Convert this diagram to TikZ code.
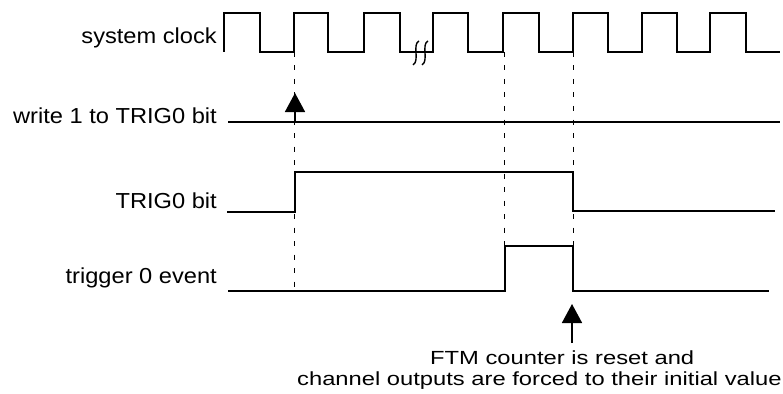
\documentclass[tikz,border=0pt]{standalone}
\usepackage{fontspec}
\setmainfont{Liberation Sans}
\usetikzlibrary{arrows.meta}
\begin{document}
\begin{tikzpicture}[x=1pt,y=-1pt,
  sig/.style={line width=1.6pt, line join=miter},
  guide/.style={line width=0.9pt, dash pattern=on 5pt off 8.5pt},
  lbl/.style={anchor=base east, inner sep=0pt, font=\fontsize{21.7}{24}\selectfont},
  note/.style={anchor=base west, inner sep=0pt, font=\fontsize{19}{21}\selectfont},
  marker/.style={line width=1.6pt, -{Triangle[width=20pt,length=19pt]}},
  brk/.style={line width=1.4pt}]
\useasboundingbox (0,0) rectangle (783,393);

% labels
\node[lbl] (lclk) at (217,44) {\scalebox{1.09}[1]{system clock}};
\node[lbl] (lwr) at (217,123) {\scalebox{1.09}[1]{write 1 to TRIG0 bit}};
\node[lbl] (ltrig) at (217,208) {\scalebox{1.09}[1]{TRIG0 bit}};
\node[lbl] (lev) at (217,283) {\scalebox{1.09}[1]{trigger 0 event}};

% guide lines
\coordinate (g1t) at (294,52);
\coordinate (g1b) at (294,291);
\coordinate (g2t) at (504,52);
\coordinate (g2b) at (504,246);
\coordinate (g3t) at (573,52);
\coordinate (g3b) at (573,246);
\draw[guide] (g1t) -- (g1b);
\draw[guide] (g2t) -- (g2b);
\draw[guide] (g3t) -- (g3b);

% system clock
\draw[sig] (224,52) -- (224,13) -- (260,13) -- (260,52) -- (294,52) -- (294,13)
  -- (328,13) -- (328,52) -- (364,52) -- (364,13) -- (400,13) -- (400,52)
  -- (433,52) -- (433,13) -- (468,13) -- (468,52) -- (503,52) -- (503,13)
  -- (539,13) -- (539,52) -- (573,52) -- (573,13) -- (608,13) -- (608,52)
  -- (642,52) -- (642,13) -- (677,13) -- (677,52) -- (710,52) -- (710,13)
  -- (746,13) -- (746,52) -- (780,52);
% break marks
\draw[brk] (419,41) .. controls (412,44) and (420,61) .. (413,65);
\draw[brk] (428,41) .. controls (421,44) and (429,61) .. (422,65);

% write 1 to TRIG0 bit
\draw[sig] (228,122) -- (780,122);
\coordinate (a1s) at (295,122);
\coordinate (a1e) at (295,93);
\draw[marker] (a1s) -- (a1e);

% TRIG0 bit
\draw[sig] (227,212) -- (295,212) -- (295,172) -- (573,172) -- (573,211) -- (775,211);

% trigger 0 event
\draw[sig] (228,291) -- (505,291) -- (505,246) -- (573,246) -- (573,291) -- (769,291);

% annotation
\coordinate (a2s) at (572,343);
\coordinate (a2e) at (572,304);
\draw[marker] (a2s) -- (a2e);
\node[note] (n1) at (430,364) {\scalebox{1.25}[1]{FTM counter is reset and}};
\node[note] (n2) at (297,385) {\scalebox{1.25}[1]{channel outputs are forced to their initial value}};
\end{tikzpicture}
\end{document}
